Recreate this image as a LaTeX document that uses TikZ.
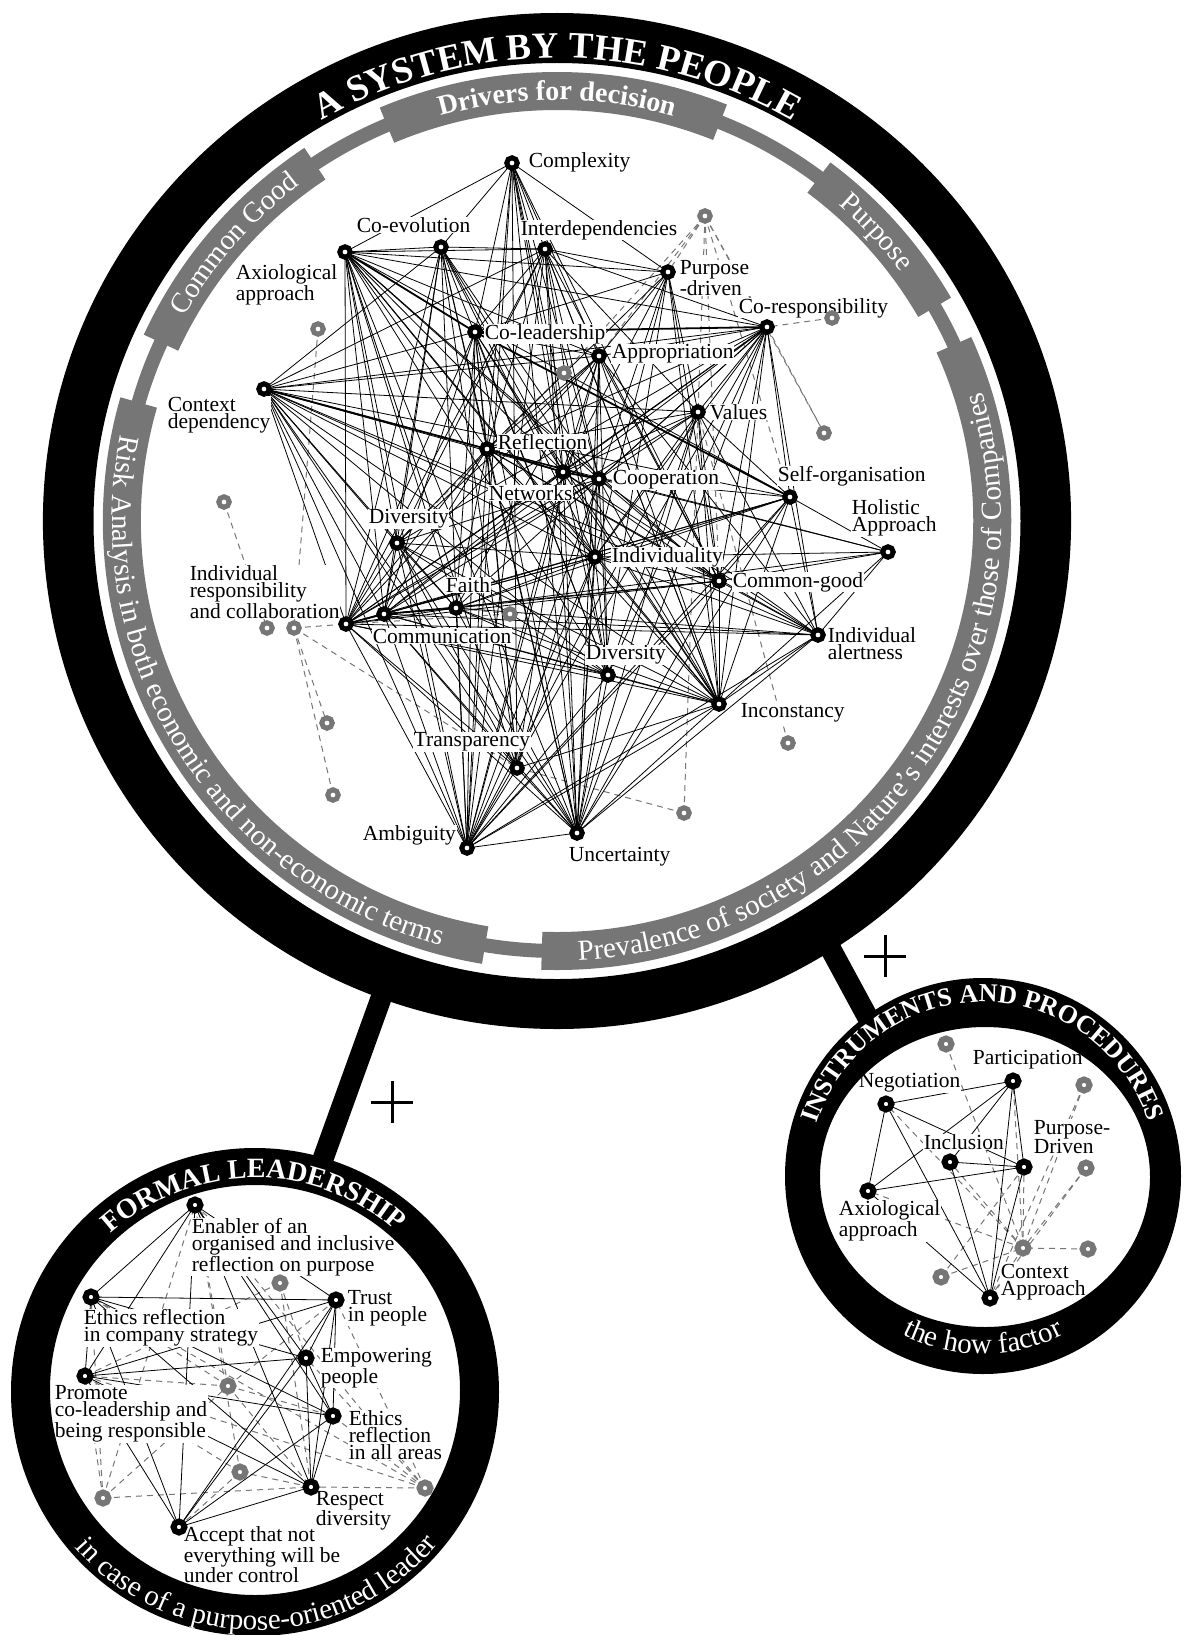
\documentclass[tikz,border=0pt]{standalone}
\usepackage{fontspec}
\setmainfont{Liberation Serif}
\usetikzlibrary{decorations.text,calc}
\definecolor{bandgray}{RGB}{118,118,118}
\newcommand\labfont{\fontsize{21.5}{17}\selectfont}
\begin{document}
\begin{tikzpicture}[x=1pt, y=1pt,
  bn/.style={circle, draw=black, line width=5pt, fill=white, minimum size=10.5pt, inner sep=0pt},
  gn/.style={bn, draw=bandgray},
  sbn/.style={bn, line width=6pt, minimum size=11pt},
  sgn/.style={sbn, draw=bandgray},
  lab/.style={fill=white, inner sep=0.6pt, font=\labfont, align=left, anchor=west},
  edge/.style={line width=0.8pt},
  bedge/.style={line width=1.8pt},
  dedge/.style={draw=bandgray, line width=1pt, dash pattern=on 6pt off 5pt},
  bar/.style={line width=21pt},
  plus/.style={line width=3pt},
  arctext/.style={decorate, decoration={text along path, text align=center, text color=white, text={#1}}},
]
\fill[white] (0,0) rectangle (1185,-1635);
\useasboundingbox (0,0) rectangle (1185,-1635);

% centres of the three discs (outer and inner edges)
\coordinate (mc) at (557,-521);
\coordinate (lc) at (255,-1392);
\coordinate (lci) at (255,-1390);
\coordinate (rc) at (983,-1176);
\coordinate (rci) at (985,-1177);

% linking bars
\coordinate (lb1) at (384,-990);  \coordinate (lb2) at (319,-1170);
\coordinate (rb1) at (815,-920);  \coordinate (rb2) at (880,-1040);
\draw[bar] (lb1) -- (lb2);
\draw[bar] (rb1) -- (rb2);

% ---------------- main network ----------------
\coordinate (CX) at (512,-163);
\coordinate (CE) at (345,-252);
\coordinate (C2) at (441,-247);
\coordinate (ID) at (545,-249);
\coordinate (PD) at (668,-272);
\coordinate (CR) at (767,-327);
\coordinate (CL) at (475,-332);
\coordinate (AP) at (599,-356);
\coordinate (CD) at (264,-389);
\coordinate (VA) at (698,-412);
\coordinate (RF) at (487,-449);
\coordinate (NW) at (563,-472);
\coordinate (CO) at (599,-479);
\coordinate (SO) at (790,-497);
\coordinate (HA) at (888,-552);
\coordinate (DU) at (397,-543);
\coordinate (IV) at (595,-557);
\coordinate (CG) at (719,-581);
\coordinate (FA) at (456,-608);
\coordinate (CM) at (384,-614);
\coordinate (IR) at (346,-624);
\coordinate (IA) at (818,-635);
\coordinate (DL) at (608,-675);
\coordinate (IC) at (719,-704);
\coordinate (TR) at (517,-768);
\coordinate (AM) at (467,-848);
\coordinate (UN) at (577,-833);
\coordinate (g1) at (705,-216);
\coordinate (g2) at (832,-318);
\coordinate (g3) at (318,-329);
\coordinate (g4) at (564,-373);
\coordinate (g5) at (824,-433);
\coordinate (g6) at (224,-502);
\coordinate (g7) at (267,-628);
\coordinate (g8) at (294,-628);
\coordinate (g9) at (510,-614);
\coordinate (g10) at (327,-723);
\coordinate (g11) at (333,-795);
\coordinate (g12) at (788,-743);
\coordinate (g13) at (684,-813);

\foreach \a/\b in {g1/PD, g1/AP, g1/g4, g1/VA, g1/SO, g1/g5, g1/CG, g1/CR,
  g2/CR, CR/g5, g3/g8, g4/DU, g4/RF, g6/g7, g8/IR, g8/g10, g8/g11, g8/TR,
  g9/IR, g9/FA, g12/VA, g13/VA, g13/TR}
  \draw[dedge] (\a) -- (\b);

\foreach \a/\b in {
  CX/CE, CX/C2, CX/PD, CX/CL, CX/RF, CX/AM, CX/TR, CX/UN, CX/NW, CX/IV, CX/DL, CX/CO, CX/IC, CX/AP, CX/CG,
  CE/C2, CE/ID, CE/PD, CE/CR, CE/IR, CE/DU, CE/CM, CE/FA, CE/RF, CE/NW, CE/CO, CE/AM, CE/TR, CE/UN, CE/DL, CE/IV, CE/IC, CE/AP, CE/SO, CE/CG,
  C2/ID, C2/CD, C2/IR, C2/CM, C2/DU, C2/TR, C2/AM, C2/UN, C2/NW, C2/CO, C2/IV, C2/DL, C2/RF, C2/IC,
  ID/PD, ID/CR, ID/CD, ID/CL, ID/RF, ID/NW, ID/CO, ID/IV, ID/IR, ID/AM, ID/UN, ID/IC, ID/CG, ID/VA, ID/DU,
  PD/CL, PD/AP, PD/RF, PD/NW, PD/CO, PD/IV, PD/VA, PD/CG, PD/IC, PD/UN,
  CR/CD, CR/AP, CR/RF, CR/NW, CR/CO, CR/VA, CR/SO, CR/IV, CR/CG, CR/IA, CR/IC, CR/DL, CR/UN, CR/AM, CR/DU, CR/FA, CR/CM, CR/IR,
  CL/CD, CL/AP, CL/RF, CL/NW, CL/IR, CL/CM, CL/AM, CL/UN, CL/TR, CL/DL, CL/IC, CL/FA,
  AP/CD, AP/RF, AP/NW, AP/DU, AP/FA, AP/IR, AP/IV, AP/DL, AP/AM, AP/UN, AP/IC, AP/CG, AP/IA,
  CD/VA, CD/NW, CD/CO, CD/SO, CD/DU, CD/IR, CD/CM, CD/FA, CD/TR, CD/AM, CD/UN, CD/DL, CD/IV, CD/IC, CD/IA, CD/CG,
  VA/RF, VA/NW, VA/CO, VA/IV, VA/CG, VA/IC, VA/DL, VA/UN, VA/AM, VA/IR, VA/SO, VA/IA,
  RF/CO, RF/DU, RF/IR, RF/CM, RF/FA, RF/AM, RF/UN, RF/TR, RF/IV, RF/CG, RF/IC, RF/IA, RF/HA,
  NW/IR, NW/CM, NW/AM, NW/UN, NW/TR, NW/DL, NW/IC, NW/CG, NW/IA,
  CO/IR, CO/CM, CO/DU, CO/AM, CO/UN, CO/TR, CO/IC, CO/IA, CO/CG, CO/SO, CO/HA, CO/DL,
  SO/HA, SO/IR, SO/CM, SO/FA, SO/IV, SO/CG, SO/IC, SO/IA, SO/UN, SO/AM,
  HA/IV, HA/CG, HA/IA, HA/IC, HA/FA,
  DU/IR, DU/CM, DU/FA, DU/AM, DU/UN, DU/TR, DU/DL, DU/IC, DU/IV,
  IV/IR, IV/CM, IV/FA, IV/AM, IV/UN, IV/TR, IV/IC, IV/IA, IV/DL, IV/CG,
  CG/IR, CG/FA, CG/CM, CG/AM, CG/UN, CG/IC, CG/IA,
  FA/IR, FA/AM, FA/UN, FA/DL, FA/IC, FA/IA,
  CM/AM, CM/UN, CM/DL, CM/IC, CM/IA, CM/TR,
  IR/AM, IR/UN, IR/TR, IR/DL, IR/IC, IR/IA,
  IA/IC, IA/AM, IA/UN, DL/AM, DL/UN, DL/IC, IC/AM, IC/UN, IC/TR, TR/AM, TR/UN, AM/UN}
  \draw[edge] (\a) -- (\b);

\foreach \a/\b in {CE/CL, CL/SO, CD/RF, RF/NW, NW/CO, IR/CM, CM/FA, CR/CL}
  \draw[bedge] (\a) -- (\b);

\node[lab] at (528,-162) {Complexity};
\node[lab] at (356,-225) {Co-evolution};
\node[lab] at (520,-230) {Interdependencies};
\node[lab] at (679,-278) {Purpose\\-driven};
\node[lab] at (738,-308) {Co-responsibility};
\node[lab] at (235,-285) {Axiological\\approach};
\node[lab] at (484,-334) {Co-leadership};
\node[lab] at (611,-354) {Appropriation};
\node[lab] at (167,-415) {Context\\dependency};
\node[lab] at (709,-412) {Values};
\node[lab] at (497,-442) {Reflection};
\node[lab] at (488,-493) {Networks};
\node[lab] at (612,-480) {Cooperation};
\node[lab] at (777,-476) {Self-organisation};
\node[lab] at (851,-518) {Holistic\\Approach};
\node[lab] at (368,-519) {Diversity};
\node[lab] at (611,-557) {Individuality};
\node[lab] at (732,-582) {Common-good};
\node[lab] at (445,-585) {Faith};
\node[lab] at (189,-592) {Individual\\responsibility\\and collaboration};
\node[lab] at (372,-636) {Communication};
\node[lab] at (827,-644) {Individual\\alertness};
\node[lab] at (585,-655) {Diversity};
\node[lab] at (740,-713) {Inconstancy};
\node[lab] at (413,-742) {Transparency};
\node[lab] at (362,-835) {Ambiguity};
\node[lab] at (568,-857) {Uncertainty};

\foreach \n in {CX,CE,C2,ID,PD,CR,CL,AP,CD,VA,RF,NW,CO,SO,HA,DU,IV,CG,FA,CM,IR,IA,DL,IC,TR,AM,UN}
  \node[bn] at (\n) {};
\foreach \n in {g1,g2,g3,g4,g5,g6,g7,g8,g9,g10,g11,g12,g13}
  \node[gn] at (\n) {};

% ---------------- main ring, bands and their titles ----------------
\begin{scope}[shift={(mc)}, xscale=1.012]
  \fill[even odd rule] (0,0) circle[radius=508pt] (0,0) circle[radius=458pt];
  \draw[bandgray, line width=14pt] (0,0) circle[radius=430pt];
  \foreach \s/\e in {113/68, 155.5/123.8, 53/29.8, 24.2/-92, 260.5/164}
    \draw[bandgray, line width=38pt] (\s:430) arc[start angle=\s, end angle=\e, radius=430pt];
  \path[arctext={|\bfseries\fontsize{37}{44}\selectfont|A SYSTEM BY THE PEOPLE}]
    (150:463) arc[start angle=150, end angle=30, radius=463pt];
  \path[arctext={|\bfseries\fontsize{28}{34}\selectfont|Drivers for decision}]
    (130:421) arc[start angle=130, end angle=50, radius=421pt];
  \path[arctext={|\fontsize{28.5}{34}\selectfont|Common Good}]
    (170:421) arc[start angle=170, end angle=108.2, radius=421pt];
  \path[arctext={|\fontsize{28.5}{34}\selectfont|Purpose}]
    (62:421) arc[start angle=62, end angle=22.8, radius=421pt];
  \path[arctext={|\fontsize{29}{34}\selectfont|Risk Analysis in both economic and non-economic terms}]
    (152:439.5) arc[start angle=152, end angle=271.4, radius=439.5pt];
  \path[arctext={|\fontsize{29}{34}\selectfont|Prevalence of society and Nature's interests over those of Companies}]
    (-100:439.5) arc[start angle=-100, end angle=30, radius=439.5pt];
\end{scope}

% ---------------- formal leadership disc ----------------
\coordinate (fEN) at (195,-1205);
\coordinate (fER) at (91,-1297);
\coordinate (fTP) at (336,-1300);
\coordinate (fEP) at (306,-1358);
\coordinate (fPC) at (85,-1376);
\coordinate (fEA) at (333,-1416);
\coordinate (fRD) at (311,-1487);
\coordinate (fAC) at (179,-1527);
\coordinate (fg1) at (280,-1283);
\coordinate (fg2) at (228,-1386);
\coordinate (fg3) at (240,-1472);
\coordinate (fg4) at (103,-1498);
\coordinate (fg5) at (425,-1488);

\foreach \a/\b in {fg1/fEN, fg1/fEP, fg1/fRD, fg1/fPC, fg2/fEN, fg2/fPC, fg2/fTP, fg2/fRD, fg2/fEA, fg2/fER,
  fg3/fAC, fg3/fPC, fg3/fRD, fg3/fEN, fg4/fPC, fg4/fRD, fg4/fEN, fg4/fER, fg4/fg2,
  fg5/fRD, fg5/fEA, fg5/fEP, fg5/fTP, fg5/fPC, fg5/fEN, fg5/fER}
  \draw[dedge] (\a) -- (\b);
\foreach \a/\b in {fEN/fER, fEN/fPC, fEN/fTP, fEN/fEP, fEN/fEA, fEN/fRD, fEN/fAC,
  fER/fTP, fER/fEP, fER/fEA, fER/fRD, fER/fPC, fER/fAC,
  fTP/fEP, fTP/fEA, fTP/fRD, fTP/fAC, fTP/fPC,
  fEP/fPC, fEP/fEA, fEP/fRD, fEP/fAC,
  fPC/fEA, fPC/fRD, fPC/fAC, fEA/fRD, fEA/fAC, fRD/fAC}
  \draw[edge] (\a) -- (\b);

\node[lab] at (191,-1247) {Enabler of an\\organised and inclusive\\reflection on purpose};
\node[lab] at (83,-1328) {Ethics reflection\\in company strategy};
\node[lab] at (347,-1308) {Trust\\in people};
\node[lab] at (320,-1368) {Empowering\\people};
\node[lab] at (54,-1414) {Promote\\co-leadership and\\being responsible};
\node[lab] at (348,-1435) {Ethics\\reflection\\in all areas};
\node[lab] at (183,-1555) {Accept that not\\everything will be\\under control};
\node[lab, fill=none] at (315,-1511) {Respect\\diversity};

\foreach \n in {fEN,fER,fTP,fEP,fPC,fEA,fRD,fAC}
  \node[sbn] at (\n) {};
\foreach \n in {fg1,fg2,fg3,fg4,fg5}
  \node[sgn] at (\n) {};

\fill[even odd rule] (lc) circle[radius=244pt] (lci) circle[radius=205pt];
\path[arctext={|\bfseries\fontsize{28}{34}\selectfont|FORMAL LEADERSHIP}]
  ($(lc)+(150:214)$) arc[start angle=150, end angle=30.8, radius=214pt];
\path[arctext={|\fontsize{29}{34}\selectfont|in case of a purpose-oriented leader}]
  ($(lc)+(205:238)$) arc[start angle=205, end angle=336.2, radius=238pt];

% ---------------- instruments disc ----------------
\coordinate (iNG) at (886,-1104);
\coordinate (iPA) at (1013,-1081);
\coordinate (iIN) at (950,-1162);
\coordinate (iPD) at (1024,-1167);
\coordinate (iAX) at (868,-1191);
\coordinate (iCA) at (990,-1298);
\coordinate (ig1) at (946,-1044);
\coordinate (ig2) at (1084,-1085);
\coordinate (ig3) at (1086,-1168);
\coordinate (ig4) at (1023,-1248);
\coordinate (ig5) at (1088,-1249);
\coordinate (ig6) at (941,-1277);

\foreach \a/\b in {ig1/ig4, ig2/ig4, ig3/ig4, ig5/ig4, ig6/ig4, ig4/iNG, ig4/iAX, ig4/iPA,
  ig4/iIN, ig4/iCA, ig4/iPD, ig6/iPD, ig2/iCA, ig3/iCA}
  \draw[dedge] (\a) -- (\b);
\foreach \a/\b in {iNG/iPA, iNG/iAX, iNG/iPD, iNG/iCA, iPA/iAX, iPA/iIN, iPA/iPD, iPA/iCA,
  iIN/iPD, iIN/iCA, iAX/iPD, iAX/iCA, iPD/iCA}
  \draw[edge] (\a) -- (\b);

\node[lab] at (972,-1060) {Participation};
\node[lab] at (858,-1083) {Negotiation};
\node[lab] at (923,-1142) {Inclusion};
\node[lab] at (1033,-1137) {Purpose-\\Driven};
\node[lab] at (838,-1221) {Axiological\\approach};
\node[lab] at (1000,-1282) {Context\\Approach};

\foreach \n in {iNG,iPA,iIN,iPD,iAX,iCA}
  \node[sbn] at (\n) {};
\foreach \n in {ig1,ig2,ig3,ig4,ig5,ig6}
  \node[sgn] at (\n) {};

\fill[even odd rule] (rc) circle[radius=198pt] (rci) ellipse[x radius=165pt, y radius=150pt];
\path[arctext={|\bfseries\fontsize{26}{32}\selectfont|INSTRUMENTS AND PROCEDURES}]
  ($(rc)+(175:174)$) arc[start angle=175, end angle=5.6, radius=174pt];
\path[arctext={|\fontsize{29}{34}\selectfont|the how factor}]
  ($(rc)+(235:178)$) arc[start angle=235, end angle=305, radius=178pt];

% plus signs beside the bars
\coordinate (p1) at (392,-1102);
\coordinate (p2) at (885,-956);
\foreach \p in {p1,p2}{
  \draw[plus] ($(\p)+(-21,0)$) -- ($(\p)+(21,0)$);
  \draw[plus] ($(\p)+(0,-21)$) -- ($(\p)+(0,21)$);
}
\end{tikzpicture}
\end{document}
